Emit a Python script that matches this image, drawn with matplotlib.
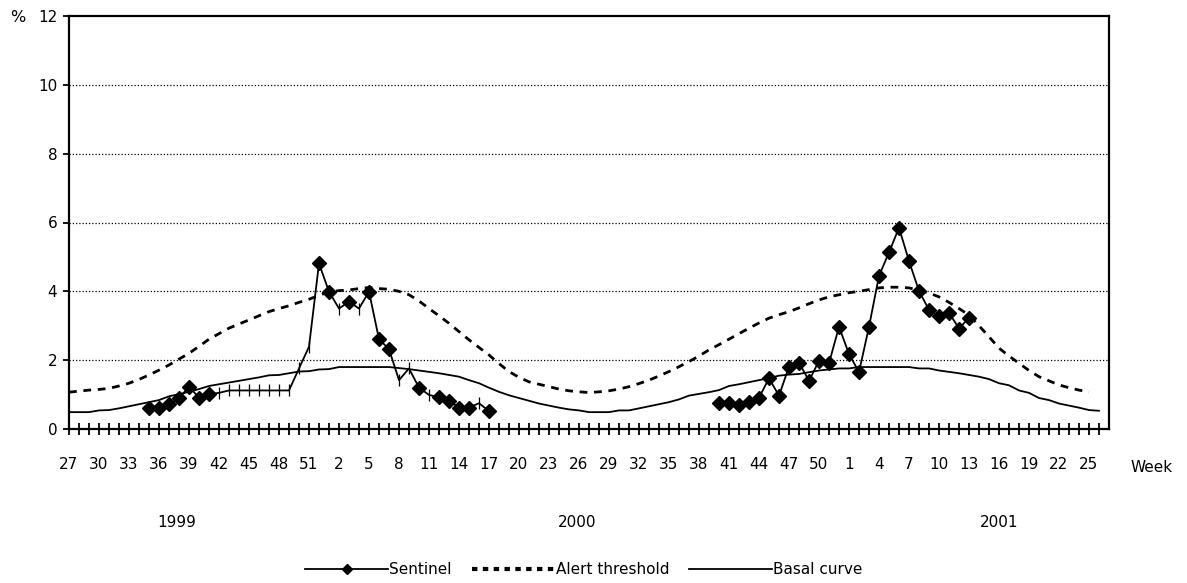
import matplotlib
matplotlib.use('Agg')
import matplotlib.pyplot as plt
import numpy as np
from matplotlib.lines import Line2D

plt.rcParams['font.family'] = 'DejaVu Sans'
plt.rcParams['font.size'] = 10

# week numbers from 1999 w27 to 2001 w26
weeks = list(range(27, 53)) + list(range(1, 53)) + list(range(1, 27))
years = ['1999', '2000', '2001']
year_pos = [10.8, 50.8, 93.0]

basal = [0.49, 0.49, 0.49, 0.54, 0.55, 0.60, 0.66, 0.72, 0.78, 0.84,
         0.95, 1.01, 1.08, 1.16, 1.25, 1.30, 1.35, 1.40, 1.45, 1.50,
         1.56, 1.57, 1.62, 1.67, 1.68, 1.73, 1.74, 1.80, 1.80, 1.80,
         1.80, 1.80, 1.80, 1.77, 1.74, 1.70, 1.66, 1.62, 1.57, 1.52,
         1.42, 1.33, 1.20, 1.08, 0.98, 0.90, 0.82, 0.74, 0.68, 0.62,
         0.57, 0.54, 0.49, 0.49, 0.49, 0.54, 0.54, 0.60, 0.66, 0.72,
         0.78, 0.86, 0.97, 1.02, 1.07, 1.13, 1.25, 1.30, 1.36, 1.42,
         1.48, 1.55, 1.58, 1.60, 1.65, 1.70, 1.73, 1.76, 1.76, 1.80,
         1.80, 1.80, 1.80, 1.80, 1.80, 1.76, 1.76, 1.70, 1.66, 1.62,
         1.57, 1.52, 1.45, 1.33, 1.27, 1.12, 1.05, 0.90, 0.84, 0.74,
         0.68, 0.62, 0.55, 0.53]

alert = [1.07, 1.10, 1.13, 1.15, 1.18, 1.25, 1.33, 1.44, 1.57, 1.71,
         1.86, 2.03, 2.20, 2.40, 2.61, 2.77, 2.93, 3.05, 3.17, 3.29,
         3.41, 3.50, 3.58, 3.68, 3.77, 3.88, 3.99, 4.02, 4.04, 4.08,
         4.11, 4.08, 4.06, 4.00, 3.90, 3.72, 3.50, 3.29, 3.07, 2.83,
         2.59, 2.37, 2.15, 1.90, 1.67, 1.50, 1.37, 1.30, 1.23, 1.16,
         1.11, 1.08, 1.06, 1.08, 1.11, 1.16, 1.23, 1.32, 1.42, 1.54,
         1.67, 1.81, 1.96, 2.12, 2.30, 2.45, 2.61, 2.77, 2.93, 3.08,
         3.22, 3.32, 3.41, 3.52, 3.64, 3.75, 3.84, 3.90, 3.96, 4.00,
         4.05, 4.10, 4.12, 4.12, 4.10, 4.03, 3.95, 3.84, 3.68, 3.50,
         3.31, 3.00, 2.68, 2.35, 2.12, 1.91, 1.70, 1.52, 1.40, 1.28,
         1.20, 1.13, 1.08]

# sentinel season 1 starts at 1999 w35 (index 8), season 2 at 2000 w40 (index 65)
sent1_start = 8
sent1 = [0.60, 0.60, 0.72, 0.89, 1.23, 0.91, 1.01, 1.05, 1.12, 1.12,
         1.12, 1.12, 1.12, 1.12, 1.12, 1.76, 2.39, 4.81, 3.99, 3.50,
         3.70, 3.50, 3.99, 2.61, 2.32, 1.42, 1.76, 1.20, 0.99, 0.92,
         0.82, 0.62, 0.62, 0.75, 0.52]
# 1 = diamond marker, 0 = plain tick
sent1_marked = [1, 1, 1, 1, 1, 1, 1, 0, 0, 0,
                0, 0, 0, 0, 0, 0, 0, 1, 1, 0,
                1, 0, 1, 1, 1, 0, 0, 1, 0, 1,
                1, 1, 1, 0, 1]
sent2_start = 65
sent2 = [0.75, 0.75, 0.70, 0.79, 0.91, 1.47, 0.97, 1.81, 1.93, 1.40,
         1.98, 1.91, 2.97, 2.18, 1.65, 2.97, 4.45, 5.13, 5.85, 4.88,
         4.01, 3.46, 3.28, 3.38, 2.92, 3.23]

W, H = 1187, 583
fig = plt.figure(figsize=(W / 100, H / 100), dpi=100)
ax = fig.add_axes([69 / W, 1 - 429 / H, (1109 - 69) / W, (429 - 16) / H])

x_all = np.arange(len(weeks))

# grid
for g in [2, 4, 6, 8, 10]:
    ax.axhline(g, color='black', linestyle=(0, (1, 1.6)), linewidth=0.9, zorder=1)

ax.plot(x_all[:len(basal)], basal, color='black', linewidth=1.3, zorder=3)
ax.plot(x_all[:len(alert)], alert, color='black', linewidth=2.0,
        linestyle=(0, (2.8, 2.4)), zorder=3)

x1 = np.arange(sent1_start, sent1_start + len(sent1))
m1 = np.array(sent1_marked, dtype=bool)
s1 = np.array(sent1)
ax.plot(x1, s1, color='black', linewidth=1.3, zorder=4)
ax.plot(x1[m1], s1[m1], 'D', color='black', markersize=7, zorder=5)
ax.plot(x1[~m1], s1[~m1], '|', color='black', markersize=9, mew=0.9, zorder=5)

x2 = np.arange(sent2_start, sent2_start + len(sent2))
ax.plot(x2, sent2, color='black', linewidth=1.3, marker='D', markersize=7, zorder=5)

ax.set_xlim(0, 104)
ax.set_ylim(0, 12)
ax.set_yticks([0, 2, 4, 6, 8, 10, 12])
ax.set_yticklabels(['0', '2', '4', '6', '8', '10', '12'], fontsize=11)
ax.set_xticks(x_all)
ax.set_xticklabels([str(w) if i % 3 == 0 else '' for i, w in enumerate(weeks)],
                   fontsize=11)
ax.tick_params(axis='x', direction='inout', length=8, width=1.3, pad=16)
ax.tick_params(axis='y', direction='out', length=4.5, width=1.3, pad=4)

for s in ['left', 'bottom', 'top', 'right']:
    ax.spines[s].set_linewidth(1.6)

fig.text(18 / W, 1 - 18 / H, '%', fontsize=11.5, ha='center', va='center')
fig.text(1152 / W, 1 - 468 / H, 'Week', fontsize=11, ha='center', va='center')
for yr, xp in zip(years, year_pos):
    ax.text(xp, -0.227, yr, transform=ax.get_xaxis_transform(),
            fontsize=11, ha='center', va='center')

handles = [
    Line2D([0], [0], color='black', linewidth=1.3, marker='D', markersize=5.5),
    Line2D([0], [0], color='black', linewidth=3.0, linestyle=(0, (1.3, 1.3))),
    Line2D([0], [0], color='black', linewidth=1.3),
]
fig.legend(handles, ['Sentinel', 'Alert threshold', 'Basal curve'],
           loc='center', bbox_to_anchor=(584 / W, 1 - 570 / H), ncol=3,
           frameon=False, fontsize=11, handlelength=5.4, handletextpad=0.1,
           columnspacing=1.3)

fig.savefig('out.png', dpi=100)
